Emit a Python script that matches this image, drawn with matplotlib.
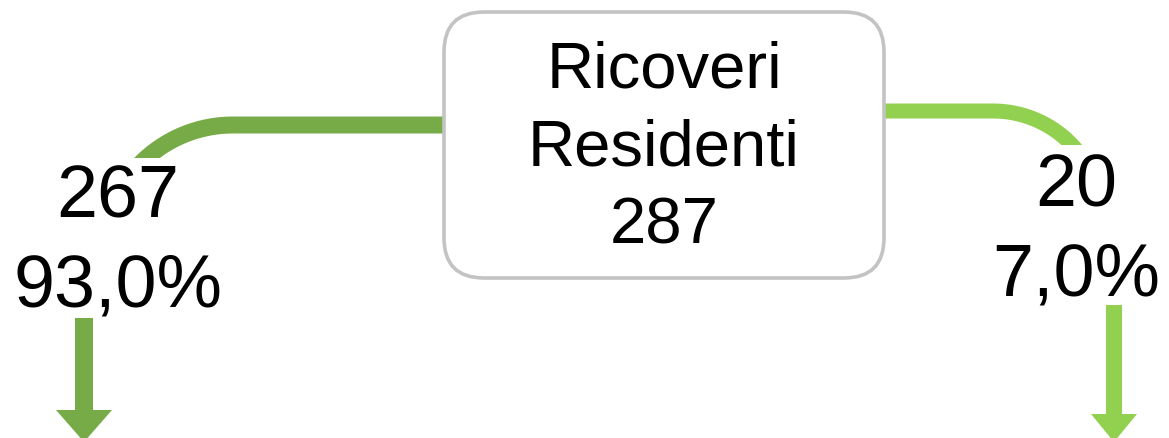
import numpy as np
import matplotlib.pyplot as plt
from matplotlib.patches import FancyBboxPatch, Rectangle, Polygon

plt.rcParams['font.family'] = ['Liberation Sans', 'DejaVu Sans']

# data
box_lines = ['Ricoveri', 'Residenti']
total = 287
values = [267, 20]
colors = ['#77ab48', '#92d050']

pct = [v / total * 100 for v in values]
pct_labels = [('%.1f%%' % p).replace('.', ',') for p in pct]

fig = plt.figure(figsize=(11.69, 4.38), dpi=100)
ax = fig.add_axes([0, 0, 1, 1])
ax.set_xlim(0, 1169)
ax.set_ylim(438, 0)
ax.axis('off')

# central box
box = FancyBboxPatch((444, 12), 440, 266, boxstyle='round,pad=0,rounding_size=40',
                     facecolor='white', edgecolor='#c3c3c3', linewidth=2.6, zorder=3)
ax.add_patch(box)
for i, txt in enumerate(box_lines + [str(total)]):
    ax.text(664, 71 + i * 77.5, txt, fontsize=47, ha='center', va='center', zorder=4)


def band(y0, x_start, x_turn, R, direction, width, color, clip_y):
    # horizontal part then a bend downwards
    if direction < 0:
        t = np.linspace(-90, -170, 60)
    else:
        t = np.linspace(-90, -10, 60)
    t = np.radians(t)
    xs = np.concatenate([[x_start], x_turn + R * np.cos(t)])
    ys = np.concatenate([[y0], y0 + R + R * np.sin(t)])
    line, = ax.plot(xs, ys, color=color, linewidth=width * 0.72, solid_capstyle='butt', zorder=2)
    clip = Rectangle((0, 0), 1169, clip_y, transform=ax.transData)
    line.set_clip_path(clip)


band(125, 450, 233, 130, -1, 17, colors[0], 158)
band(111, 878, 993, 109, 1, 15, colors[1], 145)

# labels
label_x = [118, 1076]
label_y = [198, 187]
for i in range(2):
    ax.text(label_x[i], label_y[i], str(values[i]), fontsize=53, ha='center', va='center')
    ax.text(label_x[i], label_y[i] + 89, pct_labels[i], fontsize=53, ha='center', va='center')


def arrow(xc, top, shaft_w, head_top, head_w, tip, color):
    pts = [(xc - shaft_w / 2, top), (xc + shaft_w / 2, top), (xc + shaft_w / 2, head_top),
           (xc + head_w / 2, head_top), (xc, tip), (xc - head_w / 2, head_top),
           (xc - shaft_w / 2, head_top)]
    ax.add_patch(Polygon(pts, closed=True, facecolor=color, edgecolor='none'))


arrow(84, 318, 18, 410, 56, 442, colors[0])
arrow(1114, 305, 16, 414, 46, 442, colors[1])

fig.savefig('out.png', dpi=100)
